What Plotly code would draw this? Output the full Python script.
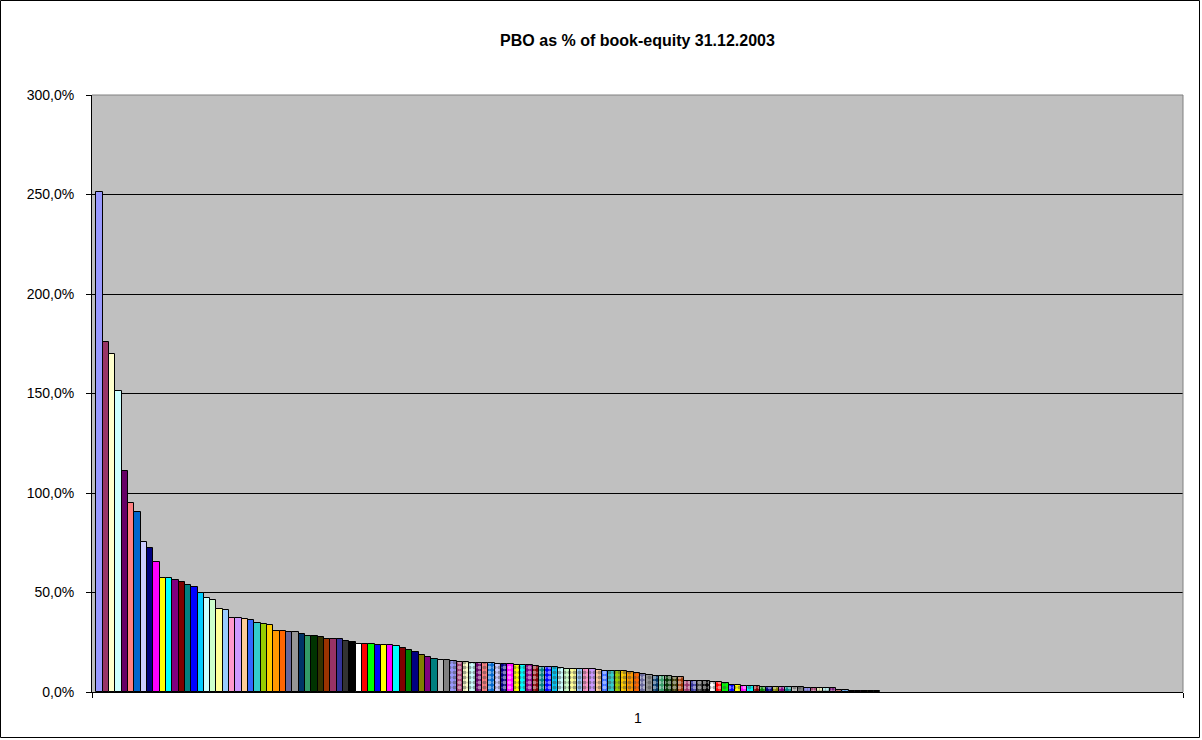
import plotly.graph_objects as go

# PBO as percentage of book equity, one value per company, sorted descending
pbo_pct = [
    251.5, 175.7, 170.0, 151.1, 111.3, 94.9, 90.7, 75.3, 72.4, 65.2,
    57.5, 57.2, 56.2, 55.2, 53.7, 53.0, 49.8, 47.4, 46.3, 41.6,
    41.1, 37.2, 37.2, 36.9, 36.2, 34.9, 34.2, 33.5, 30.7, 30.7,
    30.3, 30.3, 29.3, 28.3, 28.0, 27.7, 26.7, 26.7, 26.4, 25.8,
    25.2, 24.1, 24.1, 24.1, 23.8, 23.8, 23.5, 23.1, 22.1, 21.1,
    20.1, 18.8, 17.8, 16.8, 16.1, 16.1, 15.4, 15.1, 15.1, 14.8,
    14.8, 14.4, 14.4, 14.1, 14.1, 14.1, 13.8, 13.8, 13.4, 13.1,
    12.8, 12.4, 12.4, 12.1, 11.7, 11.7, 11.7, 11.4, 11.4, 11.1,
    10.7, 10.7, 10.4, 10.4, 10.1, 9.7, 9.1, 8.4, 8.0, 8.0,
    8.0, 7.7, 7.4, 5.7, 5.7, 5.7, 5.7, 5.0, 5.0, 4.7,
    3.7, 3.4, 3.0, 3.0, 3.0, 2.7, 2.7, 2.7, 2.3, 2.3,
    2.3, 2.3, 2.0, 2.0, 2.0, 2.0, 2.0, 1.0, 1.0, 0.5,
    0.5, 0.5, 0.5, 0.4,
]

# Category axis label and value-axis ticks
category_label = "1"
y_ticks = [0, 50, 100, 150, 200, 250, 300]
y_tick_text = [f"{v},0%" for v in y_ticks]

# Classic spreadsheet 56-colour series palette
palette = [
    "#9999FF", "#993366", "#FFFFCC", "#CCFFFF", "#660066", "#FF8080", "#0066CC", "#CCCCFF",
    "#000080", "#FF00FF", "#FFFF00", "#00FFFF", "#800080", "#800000", "#008080", "#0000FF",
    "#00CCFF", "#CCFFFF", "#CCFFCC", "#FFFF99", "#99CCFF", "#FF99CC", "#CC99FF", "#FFCC99",
    "#3366FF", "#33CCCC", "#99CC00", "#FFCC00", "#FF9900", "#FF6600", "#666699", "#969696",
    "#003366", "#339966", "#003300", "#333300", "#993300", "#993366", "#333399", "#333333",
    "#000000", "#FFFFFF", "#FF0000", "#00FF00", "#0000FF", "#FFFF00", "#FF00FF", "#00FFFF",
    "#800000", "#008000", "#000080", "#808000", "#800080", "#008080", "#C0C0C0", "#808080",
]

n = len(pbo_pct)
xs = list(range(n))
colors = [palette[i % len(palette)] for i in range(n)]
# first palette cycle solid, later cycles dotted on white
shapes_pat = ["" if i < 56 else "." for i in range(n)]
bg_pat = ["white" if i >= 56 else colors[i] for i in range(n)]
size_pat = [5 if i < 112 else 3 for i in range(n)]

fig = go.Figure()
fig.add_trace(go.Bar(
    x=xs,
    y=pbo_pct,
    width=1.0,
    marker=dict(
        color=colors,
        line=dict(color="black", width=1),
        pattern=dict(shape=shapes_pat, fgcolor=colors, bgcolor=bg_pat,
                     size=size_pat, solidity=0.5),
    ),
    hovertemplate="%{y:.1f}%<extra></extra>",
))

x_lo, x_hi = -1.19, 171.4
fig.update_layout(
    width=1202, height=740,
    margin=dict(l=92, r=19, t=95, b=48),
    paper_bgcolor="white",
    plot_bgcolor="#C0C0C0",
    bargap=0,
    showlegend=False,
    font=dict(family="Arial, 'Liberation Sans', sans-serif", color="black", size=14),
    title=dict(
        text="<b>PBO as % of book-equity 31.12.2003</b>",
        x=0.5, xref="paper", xanchor="center",
        y=1 - 40 / 740, yref="container", yanchor="middle",
        font=dict(size=16, color="black"),
    ),
    xaxis=dict(
        range=[x_lo, x_hi],
        showgrid=False, zeroline=False,
        showline=True, linecolor="black", linewidth=1,
        tickmode="array", tickvals=[x_lo, x_hi],
        ticks="outside", ticklen=5, tickcolor="black",
        showticklabels=False,
    ),
    yaxis=dict(
        range=[0, 300],
        tickmode="array", tickvals=y_ticks, ticktext=y_tick_text,
        showgrid=True, gridcolor="black", gridwidth=1,
        zeroline=False,
        showline=True, linecolor="black", linewidth=1,
        ticks="outside", ticklen=5, tickcolor="black",
        tickfont=dict(size=14),
        ticklabelstandoff=9,
    ),
    annotations=[dict(
        text=category_label, x=0.5, xref="paper", y=0, yref="paper",
        yanchor="top", yshift=-16, showarrow=False, font=dict(size=14),
    )],
    shapes=[
        # plot-area frame (top and right)
        dict(type="line", xref="paper", yref="paper", x0=0, x1=1, y0=1, y1=1,
             line=dict(color="#808080", width=1)),
        dict(type="line", xref="paper", yref="paper", x0=1, x1=1, y0=0, y1=1,
             line=dict(color="#808080", width=1)),
        # outer chart border
        dict(type="rect", xref="paper", yref="paper",
             x0=-91.5 / 1091, x1=1107.5 / 1091, y0=-45.5 / 597, y1=691.5 / 597,
             line=dict(color="black", width=1), fillcolor="rgba(0,0,0,0)"),
    ],
)

fig.write_html("out.html")
